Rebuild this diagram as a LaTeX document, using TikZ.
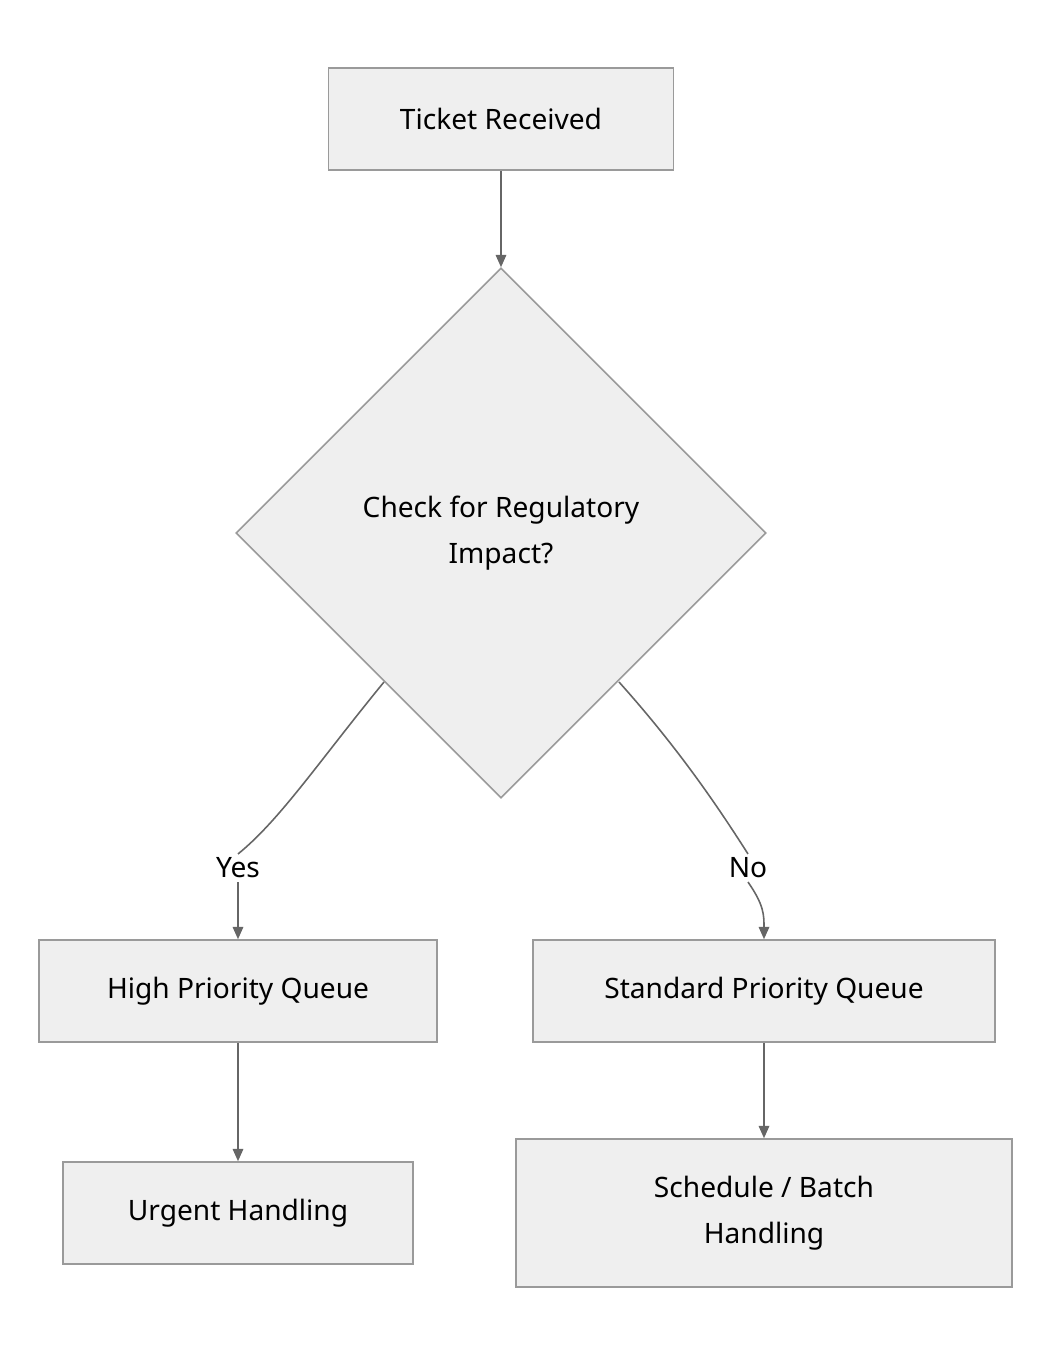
\documentclass[tikz,border=0pt]{standalone}
\usepackage{fontspec}
\setmainfont{Noto Sans}
\usetikzlibrary{positioning,shapes.geometric,arrows.meta}
\definecolor{boxfill}{HTML}{EFEFEF}
\definecolor{boxline}{HTML}{9A9A9A}
\definecolor{arrowline}{HTML}{666666}
\tikzset{%
	block/.style    = {draw=boxline, fill=boxfill, rectangle, line width=0.9pt,
		minimum height = 102*0.02cm, align=center, font=\fontsize{16}{26}\selectfont},
	decision/.style = {draw=boxline, fill=boxfill, diamond, line width=0.9pt,
		minimum width=530*0.02cm, minimum height=530*0.02cm, inner sep=0pt,
		align=center, font=\fontsize{16}{26}\selectfont},
	lbl/.style      = {font=\fontsize{16}{20}\selectfont, inner sep=2pt},
	link/.style     = {draw=arrowline, line width=0.9pt, -{Triangle[length=7pt,width=6pt]}}
}
\begin{document}
\begin{tikzpicture}[x=0.02cm, y=-0.02cm]
	\useasboundingbox (0,0) rectangle (1052,1356);
	\node [block, minimum width=345*0.02cm] (ticket) at (501,119) {Ticket Received};
	\node [decision] (check) at (501,533) {Check for Regulatory\\Impact?};
	\node [block, minimum width=398*0.02cm] (high) at (238,991) {High Priority Queue};
	\node [block, minimum width=462*0.02cm] (std) at (764,991) {Standard Priority Queue};
	\node [block, minimum width=350*0.02cm] (urgent) at (238,1213) {Urgent Handling};
	\node [block, minimum width=496*0.02cm, minimum height=148*0.02cm] (sched) at (764,1213) {Schedule / Batch\\Handling};
	\node [lbl] (yes) at (238,868) {Yes};
	\node [lbl] (no) at (748,868) {No};
	
	\draw[link] (ticket) -- (check.north);
	\draw[draw=arrowline, line width=0.9pt] (384,682) .. controls (320,760) and (280,820) .. (yes.north);
	\draw[link] (yes.south) .. controls (238,905) and (238,915) .. (high.north);
	\draw[draw=arrowline, line width=0.9pt] (619,682) .. controls (680,750) and (720,810) .. (no.north);
	\draw[link] (no.south) .. controls (764,905) and (764,915) .. (std.north);
	\draw[link] (high) -- (urgent);
	\draw[link] (std) -- (sched);
\end{tikzpicture}
\end{document}
